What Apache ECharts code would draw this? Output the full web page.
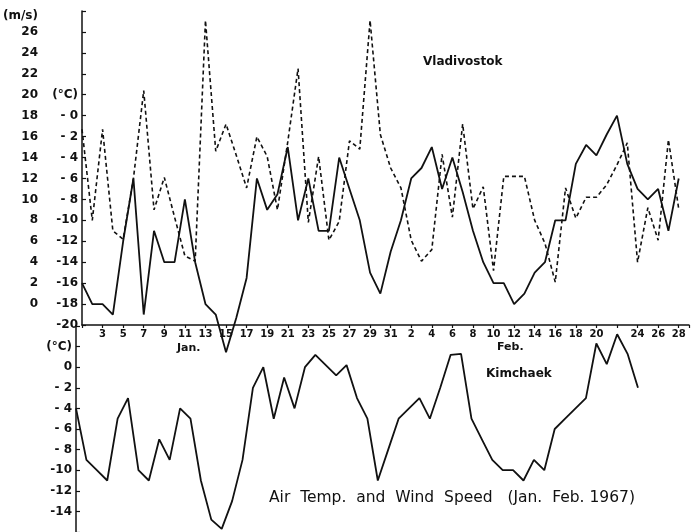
<!DOCTYPE html>
<html>
<head>
<meta charset="utf-8">
<script src="https://cdn.jsdelivr.net/npm/echarts@6/dist/echarts.min.js"></script>
<style>
  html, body { margin: 0; padding: 0; background: #fff; }
  #chart { width: 692px; height: 532px; }
</style>
</head>
<body>
<div id="chart"></div>
<script>
// day of month, Jan 1 .. Feb 28
const days = [
  1, 2, 3, 4, 5, 6, 7, 8, 9, 10, 11, 12, 13, 14, 15, 16, 17, 18, 19, 20, 21, 22, 23, 24, 25, 26, 27, 28, 29, 30, 31,
  1, 2, 3, 4, 5, 6, 7, 8, 9, 10, 11, 12, 13, 14, 15, 16, 17, 18, 19, 20, 21, 22, 23, 24, 25, 26, 27, 28
]
const unlabeledDays = [0, 52] // Jan 1 and Feb 22 carry a tick but no number

// Vladivostok air temperature (°C)
const vladTemp = [
  -16, -18, -18, -19, -12, -6, -19, -11, -14, -14, -8, -14, -18, -19, -22.6, -19.3, -15.5, -6, -9, -7.5,
  -3, -10, -6, -11, -11, -4, -7, -10, -15, -17, -13,
  -10, -6, -5, -3, -7, -4, -7.3, -11, -14, -16, -16, -18, -17, -15, -14, -10, -10, -4.6, -2.8, -3.8,
  -1.8, 0, -4.6, -7, -8, -7, -11, -6
]

// Vladivostok wind speed (m/s)
const vladWind = [
  16.7, 8, 16.7, 7, 6.2, 12, 20.4, 9, 12.1, 8.3, 4.6, 4.1, 27.1, 14.6, 17.2, 14.2, 11.1, 16, 14.1, 9,
  15.5, 22.5, 7.8, 14.1, 6.1, 7.9, 15.6, 14.8, 27.1, 16.2, 13,
  11.1, 6.1, 4.1, 5.2, 14.3, 8.3, 17.2, 9.1, 11.2, 3.2, 12.2, 12.2, 12.2, 8, 5.8, 2.1, 11.1, 8.2, 10.2, 10.2,
  11.4, 13.3, 15.4, 4, 9.2, 6.1, 15.7, 9.1
]

// Kimchaek air temperature (°C), Jan 1 .. Feb 24
const kimTemp = [
  -4, -9, -10, -11, -5, -3, -10, -11, -7, -9, -4, -5, -11, -14.8, -15.7, -13, -9, -2, 0, -5,
  -1, -4, 0, 1.2, 0.2, -0.8, 0.2, -3, -5, -11, -8,
  -5, -4, -3, -5, -2, 1.2, 1.3, -5, -7, -9, -10, -10, -11, -9, -10, -6, -5, -4, -3, 2.3,
  0.3, 3.2, 1.3, -2
]

const ink = '#111'
const font = 'DejaVu Sans'

function dayLabel(v) {
  if (v % 2 !== 0 || v >= days.length || unlabeledDays.includes(v)) return ''
  return String(days[v])
}

function tempLabel(v, unitAt, plainZero) {
  if (v === unitAt) return '(°C)'
  if (v > 0) return ''
  if (v === 0) return plainZero ? '0' : '- 0'
  return v > -10 ? '- ' + (-v) : String(v)
}

const chart = echarts.init(document.getElementById('chart'))

chart.setOption({
  animation: false,
  backgroundColor: '#fff',
  textStyle: { fontFamily: font, color: ink },
  grid: [
    { left: 76, top: 11, width: 614, height: 314 },
    { left: 76, top: 326, width: 614, height: 207 }
  ],
  xAxis: [{
    gridIndex: 0,
    type: 'value',
    min: 0,
    max: 59,
    interval: 2,
    axisLine: { onZero: false, lineStyle: { color: ink, width: 1.5 } },
    axisTick: { length: 3, lineStyle: { color: ink, width: 1.2 } },
    splitLine: { show: false },
    axisLabel: {
      margin: 4,
      fontSize: 10,
      fontWeight: 'bold',
      color: ink,
      formatter: dayLabel
    }
  }, {
    gridIndex: 1,
    type: 'value',
    min: 0,
    max: 59,
    show: false
  }],
  yAxis: [{
    gridIndex: 0,
    type: 'value',
    min: -20,
    max: 10,
    interval: 2,
    position: 'left',
    axisLine: { show: true, onZero: false, lineStyle: { color: ink, width: 1.5 } },
    axisTick: { show: true, inside: true, length: 4, lineStyle: { color: ink, width: 1.2 } },
    splitLine: { show: false },
    axisLabel: {
      margin: 4,
      fontSize: 12,
      fontWeight: 'bold',
      color: ink,
      formatter: v => tempLabel(v, 2, false)
    }
  }, {
    gridIndex: 0,
    type: 'value',
    min: -2,
    max: 28,
    interval: 2,
    position: 'left',
    offset: 40,
    axisLine: { show: false, onZero: false },
    axisTick: { show: false },
    splitLine: { show: false },
    axisLabel: {
      margin: 4,
      fontSize: 12,
      fontWeight: 'bold',
      color: ink,
      formatter: v => v === 28 ? '{unit|(m/s)}' : (v >= 0 && v <= 26 ? String(v) : ''),
      rich: {
        unit: { fontSize: 12, fontWeight: 'bold', color: ink, padding: [9, 0, 0, 0] }
      }
    }
  }, {
    gridIndex: 1,
    type: 'value',
    min: -16,
    max: 4,
    interval: 2,
    position: 'left',
    axisLine: { show: true, onZero: false, lineStyle: { color: ink, width: 1.5 } },
    axisTick: { show: true, inside: true, length: 4, lineStyle: { color: ink, width: 1.2 } },
    splitLine: { show: false },
    axisLabel: {
      margin: 4,
      fontSize: 12,
      fontWeight: 'bold',
      color: ink,
      formatter: v => v < -14 ? '' : tempLabel(v, 2, true)
    }
  }],
  graphic: [
    { type: 'text', left: 423, top: 56, style: { text: 'Vladivostok', font: 'bold 12px ' + font, fill: ink } },
    { type: 'text', left: 486, top: 368, style: { text: 'Kimchaek', font: 'bold 12px ' + font, fill: ink } },
    { type: 'text', left: 177, top: 343, style: { text: 'Jan.', font: 'bold 11px ' + font, fill: ink } },
    { type: 'text', left: 497, top: 342, style: { text: 'Feb.', font: 'bold 11px ' + font, fill: ink } },
    {
      type: 'text', left: 269, top: 490,
      style: { text: 'Air  Temp.  and  Wind  Speed   (Jan.  Feb. 1967)', font: '15.5px ' + font, fill: ink }
    }
  ],
  series: [{
    name: 'Vladivostok temp',
    type: 'line',
    xAxisIndex: 0,
    yAxisIndex: 0,
    data: vladTemp.map((v, i) => [i, v]),
    symbol: 'none',
    clip: false,
    lineStyle: { color: ink, width: 1.8 }
  }, {
    name: 'Vladivostok wind',
    type: 'line',
    xAxisIndex: 0,
    yAxisIndex: 1,
    data: vladWind.map((v, i) => [i, v]),
    symbol: 'none',
    lineStyle: { color: ink, width: 1.6, type: [4, 3] }
  }, {
    name: 'Kimchaek temp',
    type: 'line',
    xAxisIndex: 1,
    yAxisIndex: 2,
    data: kimTemp.map((v, i) => [i, v]),
    symbol: 'none',
    clip: false,
    lineStyle: { color: ink, width: 1.8 }
  }]
})
</script>
</body>
</html>
